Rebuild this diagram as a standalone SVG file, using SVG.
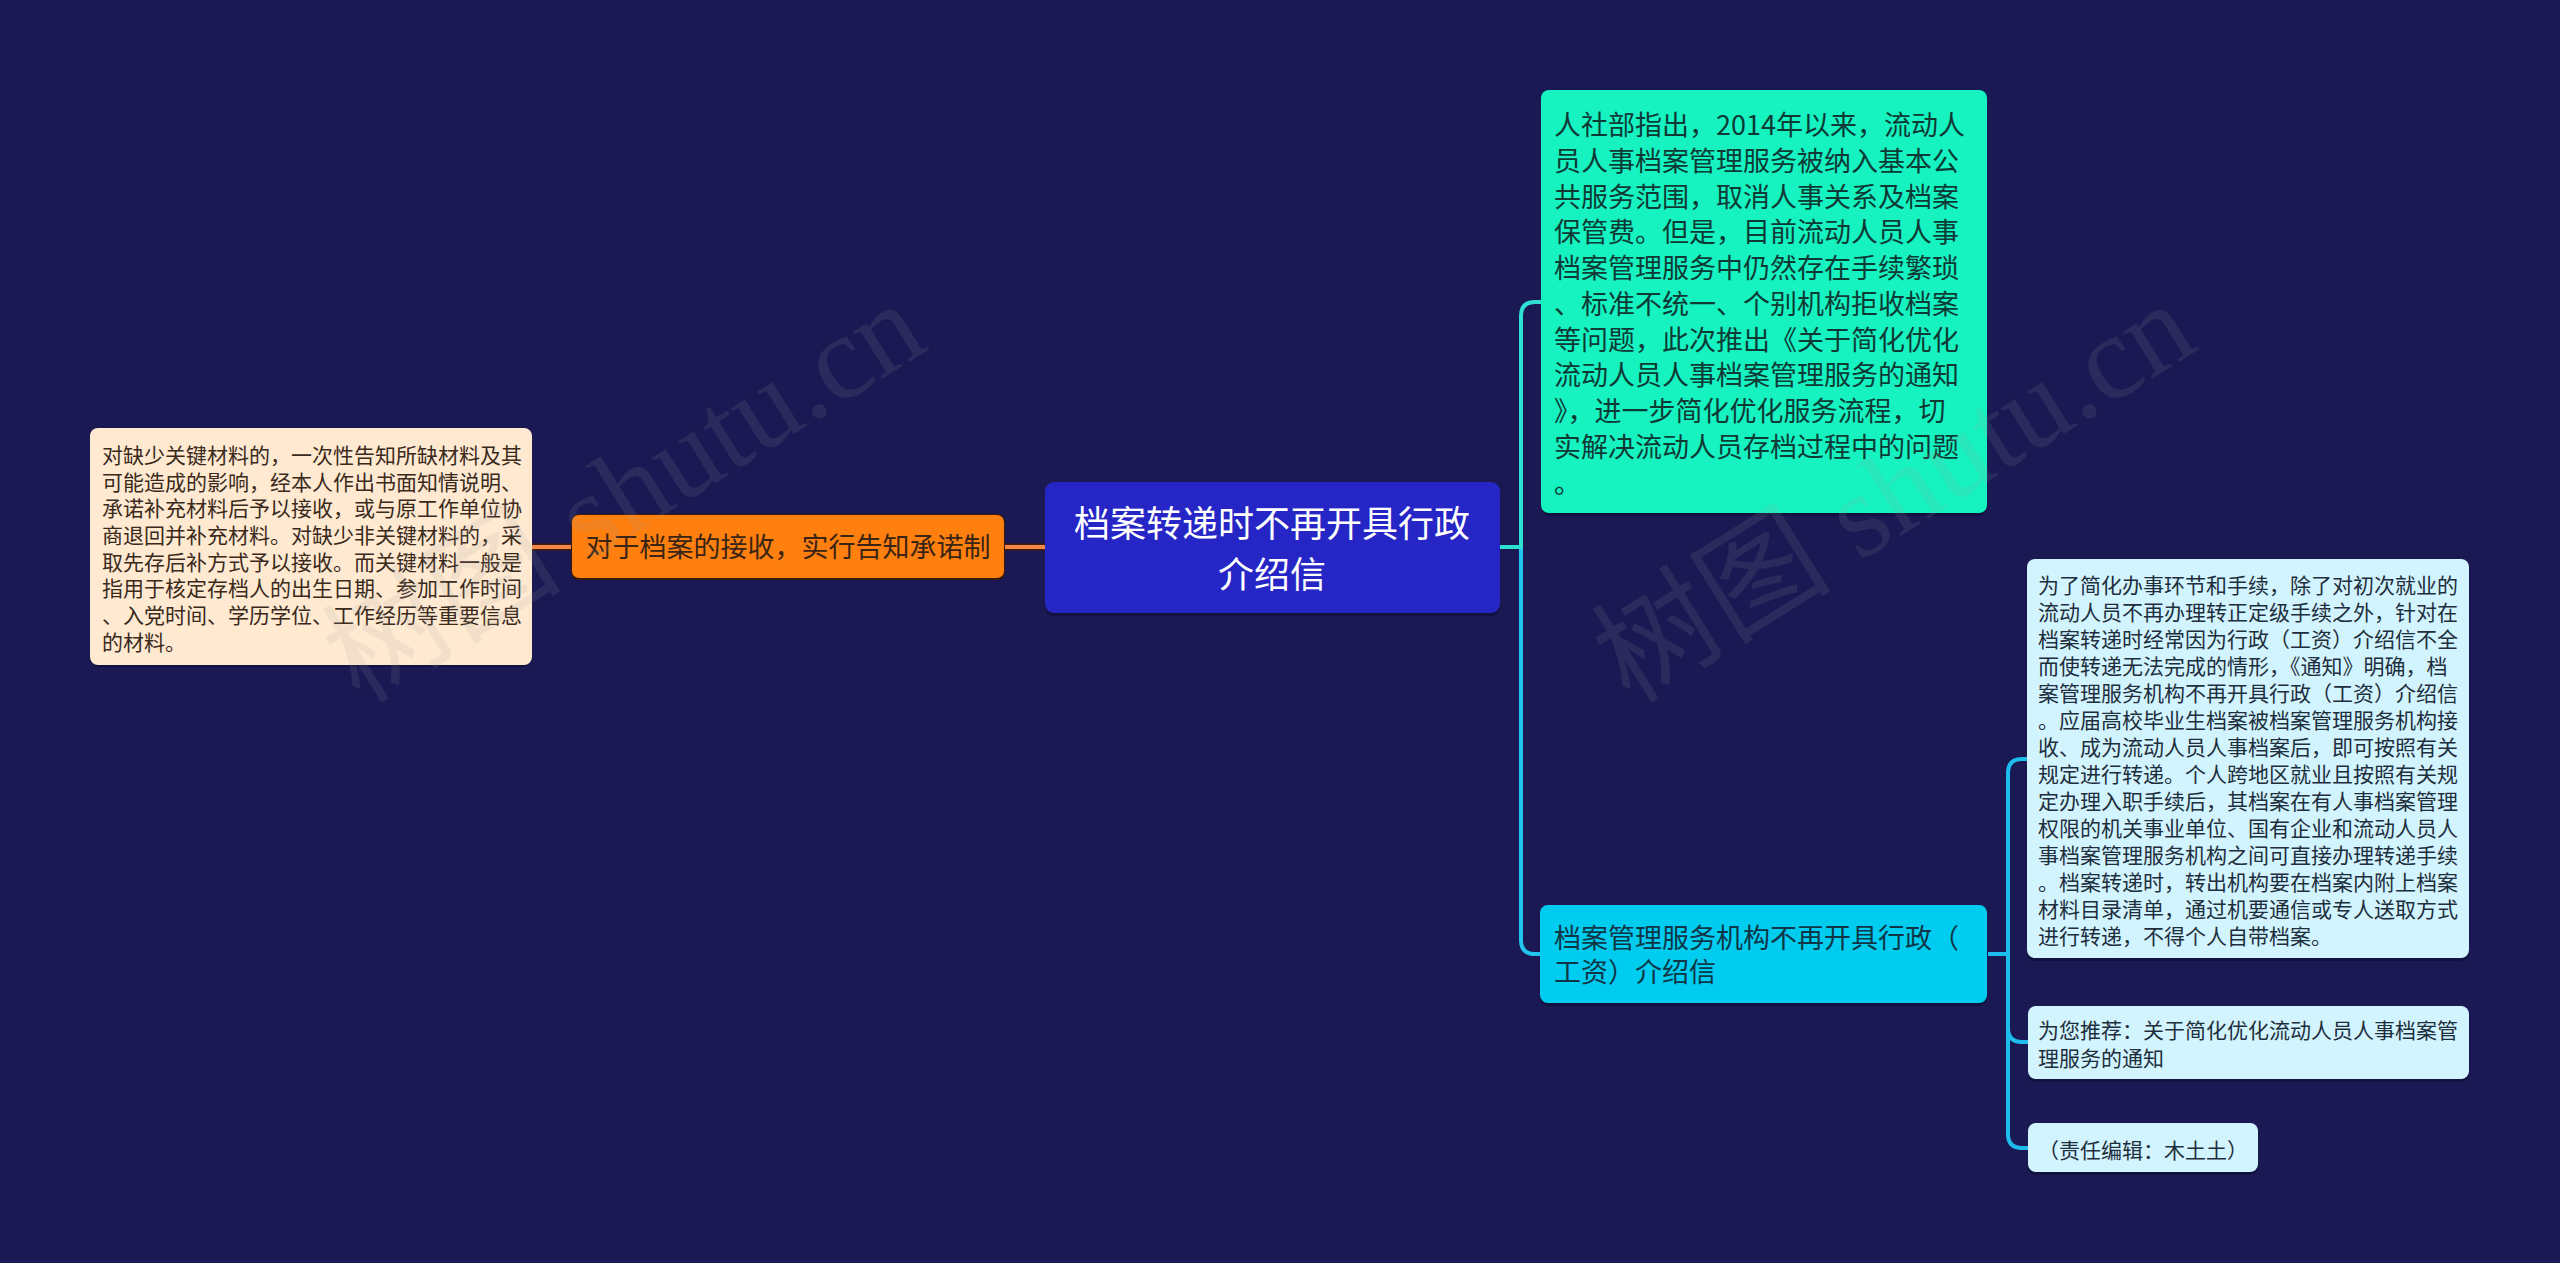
<svg xmlns="http://www.w3.org/2000/svg" width="2560" height="1263" viewBox="0 0 2560 1263">
<style>
.t{font-family:"Noto Sans CJK SC","Noto Sans",sans-serif}
.sh{fill:#0d0d33;opacity:0.6}
.wm{font-family:"Liberation Serif","Noto Sans CJK SC",serif;font-size:120px;fill:#a0a0a0;opacity:0.13}
.c{fill:none;stroke-width:4;stroke-linejoin:round}
</style>
<rect x="0" y="0" width="2560" height="1263" fill="#1a1953"/>

<g id="connectors">
  <line x1="1045" y1="547" x2="1004" y2="547" stroke="#4a1d08" stroke-width="7"/>
  <line x1="1045" y1="547" x2="1004" y2="547" stroke="#f0884a" stroke-width="4"/>
  <line x1="572" y1="547" x2="532" y2="547" stroke="#4a1d08" stroke-width="7"/>
  <line x1="572" y1="547" x2="532" y2="547" stroke="#f0884a" stroke-width="4"/>
  <path class="c" stroke="#22c4ee" d="M1500,547 H1521 V940 Q1521,954 1535,954 H1541"/>
  <path class="c" stroke="#2ee0d2" d="M1500,547 H1521 V316 Q1521,302 1535,302 H1542"/>
  <path class="c" stroke="#1fbcee" d="M1988,954 H2008 V773 Q2008,759 2022,759 H2028"/>
  <path class="c" stroke="#1fbcee" d="M2008,954 V1028 Q2008,1042 2022,1042 H2028"/>
  <path class="c" stroke="#1fbcee" d="M2008,1030 V1134 Q2008,1148 2022,1148 H2028"/>
</g>

<g id="root">
  <rect class="sh" x="1045" y="485" width="455" height="131" rx="9"/>
  <rect x="1045" y="482" width="455" height="131" rx="9" fill="#2626c6"/>
  <text class="t" x="1272" y="537" font-size="36" fill="#ffffff" text-anchor="middle">档案转递时不再开具行政</text>
  <text class="t" x="1272" y="588" font-size="36" fill="#ffffff" text-anchor="middle">介绍信</text>
</g>

<g id="n-orange">
  <rect x="571" y="514" width="434" height="66" rx="8" fill="#3a1a0a"/>
  <rect x="572" y="515" width="432" height="63" rx="7" fill="#ff7f0f"/>
  <text class="t" x="788" y="557" font-size="27" fill="#3a2414" text-anchor="middle">对于档案的接收，实行告知承诺制</text>
</g>

<g id="n-left">
  <rect class="sh" x="90" y="430" width="442" height="237" rx="8"/>
  <rect x="90" y="428" width="442" height="237" rx="8" fill="#ffe9d1"/>
  <g class="t" font-size="21" fill="#3a2a1c">
    <text x="102" y="463">对缺少关键材料的，一次性告知所缺材料及其</text>
    <text x="102" y="490">可能造成的影响，经本人作出书面知情说明、</text>
    <text x="102" y="516">承诺补充材料后予以接收，或与原工作单位协</text>
    <text x="102" y="543">商退回并补充材料。对缺少非关键材料的，采</text>
    <text x="102" y="570">取先存后补方式予以接收。而关键材料一般是</text>
    <text x="102" y="596">指用于核定存档人的出生日期、参加工作时间</text>
    <text x="102" y="623">、入党时间、学历学位、工作经历等重要信息</text>
    <text x="102" y="650">的材料。</text>
  </g>
</g>

<g id="n-teal">
  <rect class="sh" x="1541" y="93" width="446" height="423" rx="8"/>
  <rect x="1541" y="90" width="446" height="423" rx="8" fill="#16f2c0"/>
  <g class="t" font-size="27" fill="#0e3a36">
    <text x="1554" y="135">人社部指出，2014年以来，流动人</text>
    <text x="1554" y="171">员人事档案管理服务被纳入基本公</text>
    <text x="1554" y="207">共服务范围，取消人事关系及档案</text>
    <text x="1554" y="242">保管费。但是，目前流动人员人事</text>
    <text x="1554" y="278">档案管理服务中仍然存在手续繁琐</text>
    <text x="1554" y="314">、标准不统一、个别机构拒收档案</text>
    <text x="1554" y="350">等问题，此次推出《关于简化优化</text>
    <text x="1554" y="385">流动人员人事档案管理服务的通知</text>
    <text x="1554" y="421">》，进一步简化优化服务流程，切</text>
    <text x="1554" y="457">实解决流动人员存档过程中的问题</text>
    <text x="1554" y="493">。</text>
  </g>
</g>

<g id="n-cyan">
  <rect class="sh" x="1540" y="908" width="447" height="98" rx="8"/>
  <rect x="1540" y="905" width="447" height="98" rx="8" fill="#00ccf0"/>
  <g class="t" font-size="27" fill="#0e3646">
    <text x="1554" y="948">档案管理服务机构不再开具行政（</text>
    <text x="1554" y="982">工资）介绍信</text>
  </g>
</g>

<g id="n-detail">
  <rect class="sh" x="2027" y="562" width="442" height="399" rx="8"/>
  <rect x="2027" y="559" width="442" height="399" rx="8" fill="#d2f4ff"/>
  <g class="t" font-size="21" fill="#1e2e3c">
    <text x="2038" y="593">为了简化办事环节和手续，除了对初次就业的</text>
    <text x="2038" y="620">流动人员不再办理转正定级手续之外，针对在</text>
    <text x="2038" y="647">档案转递时经常因为行政（工资）介绍信不全</text>
    <text x="2038" y="674">而使转递无法完成的情形，《通知》明确，档</text>
    <text x="2038" y="701">案管理服务机构不再开具行政（工资）介绍信</text>
    <text x="2038" y="728">。应届高校毕业生档案被档案管理服务机构接</text>
    <text x="2038" y="755">收、成为流动人员人事档案后，即可按照有关</text>
    <text x="2038" y="782">规定进行转递。个人跨地区就业且按照有关规</text>
    <text x="2038" y="809">定办理入职手续后，其档案在有人事档案管理</text>
    <text x="2038" y="836">权限的机关事业单位、国有企业和流动人员人</text>
    <text x="2038" y="863">事档案管理服务机构之间可直接办理转递手续</text>
    <text x="2038" y="890">。档案转递时，转出机构要在档案内附上档案</text>
    <text x="2038" y="917">材料目录清单，通过机要通信或专人送取方式</text>
    <text x="2038" y="944">进行转递，不得个人自带档案。</text>
  </g>
</g>

<g id="n-recommend">
  <rect class="sh" x="2028" y="1009" width="441" height="73" rx="8"/>
  <rect x="2028" y="1006" width="441" height="73" rx="8" fill="#d2f4ff"/>
  <g class="t" font-size="21" fill="#1e2e3c">
    <text x="2038" y="1038">为您推荐：关于简化优化流动人员人事档案管</text>
    <text x="2038" y="1066">理服务的通知</text>
  </g>
</g>

<g id="n-editor">
  <rect class="sh" x="2028" y="1126" width="230" height="49" rx="8"/>
  <rect x="2028" y="1123" width="230" height="49" rx="8" fill="#d2f4ff"/>
  <text class="t" x="2038" y="1158" font-size="21" fill="#1e2e3c">（责任编辑：木土土）</text>
</g>

<g id="watermarks">
  <text class="wm" x="360" y="705" transform="rotate(-32 360 705)">树图 shutu.cn</text>
  <text class="wm" x="1630" y="705" transform="rotate(-32 1630 705)">树图 shutu.cn</text>
</g>
</svg>
